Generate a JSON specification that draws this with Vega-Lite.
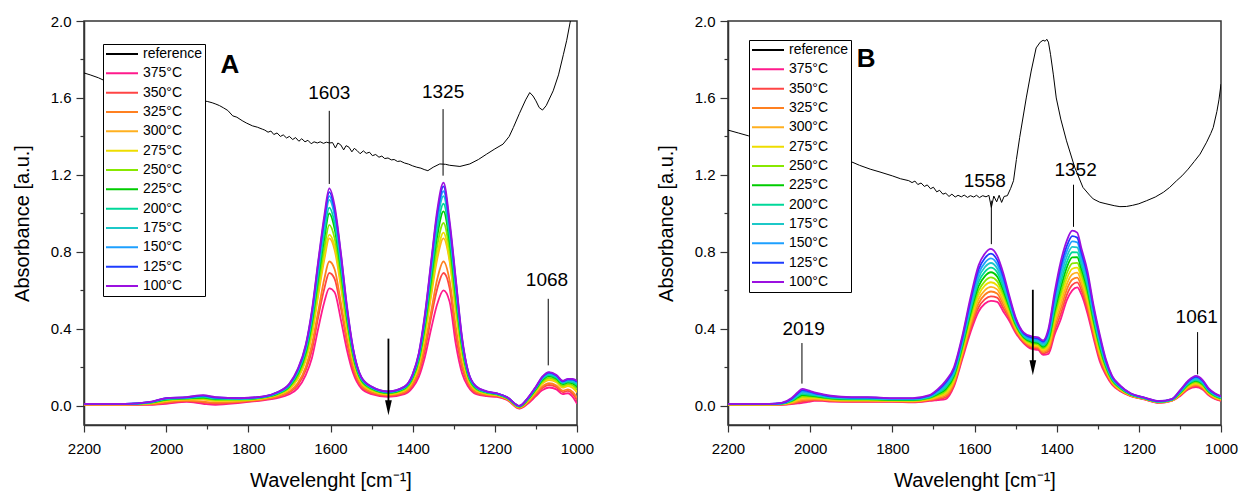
{
"$schema":"https://vega.github.io/schema/vega-lite/v6.json",
"padding":{"left":11,"top":13,"right":0,"bottom":0},
"bounds":"flush",
"spacing":151,
"config":{"font":"Liberation Sans","view":{"stroke":"#333","strokeWidth":1.5},
"axis":{"labelFont":"Liberation Sans","labelFontSize":15,"labelColor":"black","titleFont":"Liberation Sans","titleFontSize":20,"titleFontWeight":"normal","titleColor":"black","domainColor":"#333","domainWidth":1.5,"tickColor":"#333","tickWidth":1.2,"grid":false,"labelFlush":false,"labelOverlap":false,"labelBound":false}},
"resolve":{"legend":{"color":"independent"}},
"datasets":{
"refA":[
{"s":0,"x":2200,"y":1.73},{"s":0,"x":2185,"y":1.72},{"s":0,"x":2165,"y":1.705},{"s":0,"x":2150,"y":1.69},{"s":0,"x":2100,"y":1.66},{"s":0,"x":2050,"y":1.64},{"s":0,"x":2000,"y":1.62},{"s":0,"x":1950,"y":1.6},{"s":0,"x":1912,"y":1.585},{"s":0,"x":1900,"y":1.582},{"s":0,"x":1888,"y":1.575},{"s":0,"x":1879,"y":1.568},{"s":0,"x":1870,"y":1.56},{"s":0,"x":1860,"y":1.548},{"s":0,"x":1850,"y":1.535},{"s":0,"x":1838,"y":1.507},{"s":0,"x":1828,"y":1.5},{"s":0,"x":1815,"y":1.482},{"s":0,"x":1805,"y":1.47},{"s":0,"x":1790,"y":1.455},{"s":0,"x":1778,"y":1.448},{"s":0,"x":1765,"y":1.437},
{"s":0,"x":1760,"y":1.433},{"s":0,"x":1752,"y":1.422},{"s":0,"x":1745,"y":1.428},{"s":0,"x":1738,"y":1.41},{"s":0,"x":1730,"y":1.418},{"s":0,"x":1722,"y":1.4},{"s":0,"x":1715,"y":1.408},{"s":0,"x":1707,"y":1.392},{"s":0,"x":1700,"y":1.4},{"s":0,"x":1692,"y":1.384},{"s":0,"x":1685,"y":1.394},{"s":0,"x":1677,"y":1.375},{"s":0,"x":1670,"y":1.388},{"s":0,"x":1662,"y":1.372},{"s":0,"x":1655,"y":1.38},{"s":0,"x":1647,"y":1.362},{"s":0,"x":1640,"y":1.372},{"s":0,"x":1632,"y":1.366},{"s":0,"x":1625,"y":1.372},{"s":0,"x":1617,"y":1.364},{"s":0,"x":1610,"y":1.37},{"s":0,"x":1602,"y":1.366},{"s":0,"x":1595,"y":1.368},{"s":0,"x":1588,"y":1.34},{"s":0,"x":1582,"y":1.366},{"s":0,"x":1575,"y":1.356},{"s":0,"x":1568,"y":1.33},{"s":0,"x":1562,"y":1.352},{"s":0,"x":1555,"y":1.344},{"s":0,"x":1548,"y":1.32},{"s":0,"x":1542,"y":1.338},{"s":0,"x":1535,"y":1.326},{"s":0,"x":1528,"y":1.31},{"s":0,"x":1520,"y":1.325},{"s":0,"x":1513,"y":1.312},{"s":0,"x":1505,"y":1.318},{"s":0,"x":1498,"y":1.3},{"s":0,"x":1490,"y":1.306},{"s":0,"x":1482,"y":1.292},{"s":0,"x":1475,"y":1.298},{"s":0,"x":1468,"y":1.285},{"s":0,"x":1460,"y":1.288},{"s":0,"x":1452,"y":1.278},{"s":0,"x":1445,"y":1.28},{"s":0,"x":1437,"y":1.27},{"s":0,"x":1430,"y":1.272},{"s":0,"x":1420,"y":1.262},{"s":0,"x":1410,"y":1.256},{"s":0,"x":1400,"y":1.247},{"s":0,"x":1390,"y":1.24},{"s":0,"x":1380,"y":1.235},{"s":0,"x":1372,"y":1.228},{"s":0,"x":1363,"y":1.222},
{"s":0,"x":1350,"y":1.24},{"s":0,"x":1334,"y":1.257},{"s":0,"x":1320,"y":1.255},{"s":0,"x":1310,"y":1.25},{"s":0,"x":1285,"y":1.244},{"s":0,"x":1261,"y":1.257},{"s":0,"x":1240,"y":1.28},{"s":0,"x":1220,"y":1.308},{"s":0,"x":1200,"y":1.335},{"s":0,"x":1180,"y":1.36},{"s":0,"x":1165,"y":1.4},{"s":0,"x":1155,"y":1.446},{"s":0,"x":1140,"y":1.52},{"s":0,"x":1125,"y":1.59},{"s":0,"x":1115,"y":1.628},{"s":0,"x":1107,"y":1.61},{"s":0,"x":1100,"y":1.585},{"s":0,"x":1092,"y":1.55},{"s":0,"x":1084,"y":1.537},{"s":0,"x":1075,"y":1.56},{"s":0,"x":1058,"y":1.637},{"s":0,"x":1045,"y":1.72},{"s":0,"x":1033,"y":1.827},{"s":0,"x":1025,"y":1.9},{"s":0,"x":1017,"y":1.99},{"s":0,"x":1010,"y":2.06}],
"refB":[
{"s":0,"x":2200,"y":1.433},{"s":0,"x":2175,"y":1.418},{"s":0,"x":2150,"y":1.403},{"s":0,"x":2100,"y":1.37},{"s":0,"x":2000,"y":1.32},{"s":0,"x":1906,"y":1.274},{"s":0,"x":1880,"y":1.25},{"s":0,"x":1854,"y":1.23},{"s":0,"x":1830,"y":1.215},{"s":0,"x":1800,"y":1.195},{"s":0,"x":1780,"y":1.18},
{"s":0,"x":1760,"y":1.17},{"s":0,"x":1752,"y":1.16},{"s":0,"x":1745,"y":1.168},{"s":0,"x":1738,"y":1.15},{"s":0,"x":1730,"y":1.158},{"s":0,"x":1722,"y":1.14},{"s":0,"x":1715,"y":1.148},{"s":0,"x":1707,"y":1.128},{"s":0,"x":1700,"y":1.136},{"s":0,"x":1692,"y":1.112},{"s":0,"x":1685,"y":1.12},{"s":0,"x":1677,"y":1.1},{"s":0,"x":1670,"y":1.105},{"s":0,"x":1662,"y":1.088},{"s":0,"x":1655,"y":1.1},{"s":0,"x":1647,"y":1.085},{"s":0,"x":1640,"y":1.094},{"s":0,"x":1632,"y":1.086},{"s":0,"x":1625,"y":1.095},{"s":0,"x":1617,"y":1.083},{"s":0,"x":1610,"y":1.092},{"s":0,"x":1602,"y":1.085},{"s":0,"x":1595,"y":1.094},{"s":0,"x":1588,"y":1.082},{"s":0,"x":1580,"y":1.092},{"s":0,"x":1572,"y":1.086},{"s":0,"x":1565,"y":1.094},{"s":0,"x":1559,"y":1.031},{"s":0,"x":1553,"y":1.09},{"s":0,"x":1546,"y":1.06},{"s":0,"x":1540,"y":1.094},{"s":0,"x":1534,"y":1.057},{"s":0,"x":1528,"y":1.088},{"s":0,"x":1520,"y":1.092},{"s":0,"x":1512,"y":1.13},
{"s":0,"x":1505,"y":1.17},{"s":0,"x":1498,"y":1.28},{"s":0,"x":1490,"y":1.395},{"s":0,"x":1474,"y":1.6},{"s":0,"x":1462,"y":1.74},{"s":0,"x":1450,"y":1.86},{"s":0,"x":1440,"y":1.89},{"s":0,"x":1433,"y":1.9},{"s":0,"x":1428,"y":1.895},{"s":0,"x":1424,"y":1.905},{"s":0,"x":1420,"y":1.89},{"s":0,"x":1415,"y":1.827},{"s":0,"x":1408,"y":1.72},{"s":0,"x":1401,"y":1.6},{"s":0,"x":1390,"y":1.49},{"s":0,"x":1376,"y":1.377},{"s":0,"x":1356,"y":1.239},{"s":0,"x":1336,"y":1.135},{"s":0,"x":1320,"y":1.095},{"s":0,"x":1311,"y":1.075},{"s":0,"x":1295,"y":1.058},{"s":0,"x":1280,"y":1.05},{"s":0,"x":1260,"y":1.04},{"s":0,"x":1246,"y":1.035},{"s":0,"x":1230,"y":1.036},{"s":0,"x":1215,"y":1.042},{"s":0,"x":1200,"y":1.05},{"s":0,"x":1181,"y":1.066},{"s":0,"x":1160,"y":1.085},{"s":0,"x":1140,"y":1.11},{"s":0,"x":1125,"y":1.135},{"s":0,"x":1108,"y":1.17},{"s":0,"x":1095,"y":1.195},{"s":0,"x":1080,"y":1.23},{"s":0,"x":1065,"y":1.27},{"s":0,"x":1051,"y":1.308},{"s":0,"x":1035,"y":1.37},{"s":0,"x":1025,"y":1.415},{"s":0,"x":1019,"y":1.446},{"s":0,"x":1010,"y":1.53},{"s":0,"x":1005,"y":1.59},{"s":0,"x":1000,"y":1.672}],
"tA":[
{"s":375,"x":2200,"y":0.005},{"s":375,"x":2100,"y":0.005},{"s":375,"x":2040,"y":0.005},{"s":375,"x":2000,"y":0.01},{"s":375,"x":1950,"y":0.02},{"s":375,"x":1910,"y":0.01},{"s":375,"x":1880,"y":0.005},{"s":375,"x":1820,"y":0.015},{"s":375,"x":1760,"y":0.03},{"s":375,"x":1730,"y":0.04},{"s":375,"x":1700,"y":0.06},{"s":375,"x":1680,"y":0.09},{"s":375,"x":1660,"y":0.16},{"s":375,"x":1645,"y":0.25},{"s":375,"x":1630,"y":0.4},{"s":375,"x":1615,"y":0.54},{"s":375,"x":1603,"y":0.61},{"s":375,"x":1590,"y":0.59},{"s":375,"x":1575,"y":0.45},{"s":375,"x":1560,"y":0.29},{"s":375,"x":1545,"y":0.17},{"s":375,"x":1525,"y":0.09},{"s":375,"x":1500,"y":0.06},{"s":375,"x":1460,"y":0.046},{"s":375,"x":1420,"y":0.06},{"s":375,"x":1400,"y":0.095},{"s":375,"x":1385,"y":0.15},{"s":375,"x":1370,"y":0.255},{"s":375,"x":1355,"y":0.4},{"s":375,"x":1340,"y":0.53},{"s":375,"x":1325,"y":0.6},{"s":375,"x":1310,"y":0.54},{"s":375,"x":1295,"y":0.32},{"s":375,"x":1280,"y":0.17},{"s":375,"x":1265,"y":0.1},{"s":375,"x":1245,"y":0.06},{"s":375,"x":1220,"y":0.05},{"s":375,"x":1195,"y":0.046},{"s":375,"x":1170,"y":0.03},{"s":375,"x":1140,"y":-0.015},{"s":375,"x":1120,"y":0.01},{"s":375,"x":1100,"y":0.05},{"s":375,"x":1085,"y":0.08},{"s":375,"x":1068,"y":0.095},{"s":375,"x":1050,"y":0.085},{"s":375,"x":1035,"y":0.06},{"s":375,"x":1022,"y":0.065},{"s":375,"x":1010,"y":0.045},{"s":375,"x":1000,"y":0.01},
{"s":350,"x":2200,"y":0.006},{"s":350,"x":2100,"y":0.006},{"s":350,"x":2040,"y":0.007},{"s":350,"x":2000,"y":0.015},{"s":350,"x":1950,"y":0.024},{"s":350,"x":1910,"y":0.017},{"s":350,"x":1880,"y":0.011},{"s":350,"x":1820,"y":0.019},{"s":350,"x":1760,"y":0.033},{"s":350,"x":1730,"y":0.045},{"s":350,"x":1700,"y":0.069},{"s":350,"x":1680,"y":0.106},{"s":350,"x":1660,"y":0.186},{"s":350,"x":1645,"y":0.29},{"s":350,"x":1630,"y":0.46},{"s":350,"x":1615,"y":0.61},{"s":350,"x":1603,"y":0.69},{"s":350,"x":1590,"y":0.66},{"s":350,"x":1575,"y":0.51},{"s":350,"x":1560,"y":0.33},{"s":350,"x":1545,"y":0.191},{"s":350,"x":1525,"y":0.1},{"s":350,"x":1500,"y":0.066},{"s":350,"x":1460,"y":0.051},{"s":350,"x":1420,"y":0.066},{"s":350,"x":1400,"y":0.106},{"s":350,"x":1385,"y":0.17},{"s":350,"x":1370,"y":0.29},{"s":350,"x":1355,"y":0.46},{"s":350,"x":1340,"y":0.61},{"s":350,"x":1325,"y":0.69},{"s":350,"x":1310,"y":0.61},{"s":350,"x":1295,"y":0.37},{"s":350,"x":1280,"y":0.2},{"s":350,"x":1265,"y":0.113},{"s":350,"x":1245,"y":0.066},{"s":350,"x":1220,"y":0.054},{"s":350,"x":1195,"y":0.049},{"s":350,"x":1170,"y":0.032},{"s":350,"x":1140,"y":-0.013},{"s":350,"x":1120,"y":0.015},{"s":350,"x":1100,"y":0.058},{"s":350,"x":1085,"y":0.091},{"s":350,"x":1068,"y":0.108},{"s":350,"x":1050,"y":0.097},{"s":350,"x":1035,"y":0.071},{"s":350,"x":1022,"y":0.077},{"s":350,"x":1010,"y":0.06},{"s":350,"x":1000,"y":0.029},
{"s":325,"x":2200,"y":0.006},{"s":325,"x":2100,"y":0.006},{"s":325,"x":2040,"y":0.009},{"s":325,"x":2000,"y":0.018},{"s":325,"x":1950,"y":0.027},{"s":325,"x":1910,"y":0.022},{"s":325,"x":1880,"y":0.016},{"s":325,"x":1820,"y":0.022},{"s":325,"x":1760,"y":0.035},{"s":325,"x":1730,"y":0.048},{"s":325,"x":1700,"y":0.075},{"s":325,"x":1680,"y":0.117},{"s":325,"x":1660,"y":0.203},{"s":325,"x":1645,"y":0.32},{"s":325,"x":1630,"y":0.49},{"s":325,"x":1615,"y":0.66},{"s":325,"x":1603,"y":0.75},{"s":325,"x":1590,"y":0.71},{"s":325,"x":1575,"y":0.54},{"s":325,"x":1560,"y":0.35},{"s":325,"x":1545,"y":0.205},{"s":325,"x":1525,"y":0.106},{"s":325,"x":1500,"y":0.071},{"s":325,"x":1460,"y":0.054},{"s":325,"x":1420,"y":0.071},{"s":325,"x":1400,"y":0.114},{"s":325,"x":1385,"y":0.184},{"s":325,"x":1370,"y":0.32},{"s":325,"x":1355,"y":0.49},{"s":325,"x":1340,"y":0.66},{"s":325,"x":1325,"y":0.75},{"s":325,"x":1310,"y":0.65},{"s":325,"x":1295,"y":0.41},{"s":325,"x":1280,"y":0.221},{"s":325,"x":1265,"y":0.122},{"s":325,"x":1245,"y":0.071},{"s":325,"x":1220,"y":0.057},{"s":325,"x":1195,"y":0.051},{"s":325,"x":1170,"y":0.034},{"s":325,"x":1140,"y":-0.011},{"s":325,"x":1120,"y":0.018},{"s":325,"x":1100,"y":0.064},{"s":325,"x":1085,"y":0.099},{"s":325,"x":1068,"y":0.117},{"s":325,"x":1050,"y":0.105},{"s":325,"x":1035,"y":0.079},{"s":325,"x":1022,"y":0.085},{"s":325,"x":1010,"y":0.071},{"s":325,"x":1000,"y":0.042},
{"s":300,"x":2200,"y":0.007},{"s":300,"x":2100,"y":0.007},{"s":300,"x":2040,"y":0.012},{"s":300,"x":2000,"y":0.025},{"s":300,"x":1950,"y":0.032},{"s":300,"x":1910,"y":0.032},{"s":300,"x":1880,"y":0.025},{"s":300,"x":1820,"y":0.027},{"s":300,"x":1760,"y":0.04},{"s":300,"x":1730,"y":0.055},{"s":300,"x":1700,"y":0.087},{"s":300,"x":1680,"y":0.139},{"s":300,"x":1660,"y":0.238},{"s":300,"x":1645,"y":0.37},{"s":300,"x":1630,"y":0.57},{"s":300,"x":1615,"y":0.76},{"s":300,"x":1603,"y":0.87},{"s":300,"x":1590,"y":0.81},{"s":300,"x":1575,"y":0.62},{"s":300,"x":1560,"y":0.4},{"s":300,"x":1545,"y":0.234},{"s":300,"x":1525,"y":0.119},{"s":300,"x":1500,"y":0.08},{"s":300,"x":1460,"y":0.06},{"s":300,"x":1420,"y":0.08},{"s":300,"x":1400,"y":0.129},{"s":300,"x":1385,"y":0.211},{"s":300,"x":1370,"y":0.365},{"s":300,"x":1355,"y":0.57},{"s":300,"x":1340,"y":0.765},{"s":300,"x":1325,"y":0.87},{"s":300,"x":1310,"y":0.75},{"s":300,"x":1295,"y":0.49},{"s":300,"x":1280,"y":0.263},{"s":300,"x":1265,"y":0.139},{"s":300,"x":1245,"y":0.08},{"s":300,"x":1220,"y":0.062},{"s":300,"x":1195,"y":0.055},{"s":300,"x":1170,"y":0.037},{"s":300,"x":1140,"y":-0.008},{"s":300,"x":1120,"y":0.025},{"s":300,"x":1100,"y":0.075},{"s":300,"x":1085,"y":0.114},{"s":300,"x":1068,"y":0.134},{"s":300,"x":1050,"y":0.122},{"s":300,"x":1035,"y":0.094},{"s":300,"x":1022,"y":0.102},{"s":300,"x":1010,"y":0.092},{"s":300,"x":1000,"y":0.069},
{"s":275,"x":2200,"y":0.007},{"s":275,"x":2100,"y":0.007},{"s":275,"x":2040,"y":0.013},{"s":275,"x":2000,"y":0.026},{"s":275,"x":1950,"y":0.033},{"s":275,"x":1910,"y":0.034},{"s":275,"x":1880,"y":0.026},{"s":275,"x":1820,"y":0.028},{"s":275,"x":1760,"y":0.041},{"s":275,"x":1730,"y":0.056},{"s":275,"x":1700,"y":0.089},{"s":275,"x":1680,"y":0.143},{"s":275,"x":1660,"y":0.245},{"s":275,"x":1645,"y":0.38},{"s":275,"x":1630,"y":0.59},{"s":275,"x":1615,"y":0.78},{"s":275,"x":1603,"y":0.89},{"s":275,"x":1590,"y":0.83},{"s":275,"x":1575,"y":0.64},{"s":275,"x":1560,"y":0.41},{"s":275,"x":1545,"y":0.239},{"s":275,"x":1525,"y":0.122},{"s":275,"x":1500,"y":0.081},{"s":275,"x":1460,"y":0.061},{"s":275,"x":1420,"y":0.081},{"s":275,"x":1400,"y":0.132},{"s":275,"x":1385,"y":0.216},{"s":275,"x":1370,"y":0.37},{"s":275,"x":1355,"y":0.59},{"s":275,"x":1340,"y":0.79},{"s":275,"x":1325,"y":0.9},{"s":275,"x":1310,"y":0.76},{"s":275,"x":1295,"y":0.5},{"s":275,"x":1280,"y":0.271},{"s":275,"x":1265,"y":0.142},{"s":275,"x":1245,"y":0.081},{"s":275,"x":1220,"y":0.063},{"s":275,"x":1195,"y":0.056},{"s":275,"x":1170,"y":0.038},{"s":275,"x":1140,"y":-0.007},{"s":275,"x":1120,"y":0.026},{"s":275,"x":1100,"y":0.077},{"s":275,"x":1085,"y":0.117},{"s":275,"x":1068,"y":0.137},{"s":275,"x":1050,"y":0.125},{"s":275,"x":1035,"y":0.097},{"s":275,"x":1022,"y":0.105},{"s":275,"x":1010,"y":0.095},{"s":275,"x":1000,"y":0.074},
{"s":250,"x":2200,"y":0.008},{"s":250,"x":2100,"y":0.008},{"s":250,"x":2040,"y":0.014},{"s":250,"x":2000,"y":0.029},{"s":250,"x":1950,"y":0.036},{"s":250,"x":1910,"y":0.038},{"s":250,"x":1880,"y":0.03},{"s":250,"x":1820,"y":0.031},{"s":250,"x":1760,"y":0.043},{"s":250,"x":1730,"y":0.059},{"s":250,"x":1700,"y":0.095},{"s":250,"x":1680,"y":0.153},{"s":250,"x":1660,"y":0.261},{"s":250,"x":1645,"y":0.41},{"s":250,"x":1630,"y":0.62},{"s":250,"x":1615,"y":0.82},{"s":250,"x":1603,"y":0.94},{"s":250,"x":1590,"y":0.87},{"s":250,"x":1575,"y":0.67},{"s":250,"x":1560,"y":0.435},{"s":250,"x":1545,"y":0.252},{"s":250,"x":1525,"y":0.128},{"s":250,"x":1500,"y":0.085},{"s":250,"x":1460,"y":0.064},{"s":250,"x":1420,"y":0.085},{"s":250,"x":1400,"y":0.139},{"s":250,"x":1385,"y":0.229},{"s":250,"x":1370,"y":0.4},{"s":250,"x":1355,"y":0.62},{"s":250,"x":1340,"y":0.835},{"s":250,"x":1325,"y":0.95},{"s":250,"x":1310,"y":0.805},{"s":250,"x":1295,"y":0.53},{"s":250,"x":1280,"y":0.29},{"s":250,"x":1265,"y":0.15},{"s":250,"x":1245,"y":0.085},{"s":250,"x":1220,"y":0.066},{"s":250,"x":1195,"y":0.058},{"s":250,"x":1170,"y":0.039},{"s":250,"x":1140,"y":-0.006},{"s":250,"x":1120,"y":0.029},{"s":250,"x":1100,"y":0.082},{"s":250,"x":1085,"y":0.124},{"s":250,"x":1068,"y":0.145},{"s":250,"x":1050,"y":0.132},{"s":250,"x":1035,"y":0.104},{"s":250,"x":1022,"y":0.112},{"s":250,"x":1010,"y":0.105},{"s":250,"x":1000,"y":0.086},
{"s":225,"x":2200,"y":0.009},{"s":225,"x":2100,"y":0.009},{"s":225,"x":2040,"y":0.016},{"s":225,"x":2000,"y":0.032},{"s":225,"x":1950,"y":0.039},{"s":225,"x":1910,"y":0.043},{"s":225,"x":1880,"y":0.035},{"s":225,"x":1820,"y":0.034},{"s":225,"x":1760,"y":0.045},{"s":225,"x":1730,"y":0.062},{"s":225,"x":1700,"y":0.101},{"s":225,"x":1680,"y":0.164},{"s":225,"x":1660,"y":0.278},{"s":225,"x":1645,"y":0.435},{"s":225,"x":1630,"y":0.66},{"s":225,"x":1615,"y":0.87},{"s":225,"x":1603,"y":1.0},{"s":225,"x":1590,"y":0.92},{"s":225,"x":1575,"y":0.71},{"s":225,"x":1560,"y":0.46},{"s":225,"x":1545,"y":0.266},{"s":225,"x":1525,"y":0.134},{"s":225,"x":1500,"y":0.09},{"s":225,"x":1460,"y":0.067},{"s":225,"x":1420,"y":0.09},{"s":225,"x":1400,"y":0.147},{"s":225,"x":1385,"y":0.243},{"s":225,"x":1370,"y":0.42},{"s":225,"x":1355,"y":0.66},{"s":225,"x":1340,"y":0.885},{"s":225,"x":1325,"y":1.01},{"s":225,"x":1310,"y":0.85},{"s":225,"x":1295,"y":0.57},{"s":225,"x":1280,"y":0.311},{"s":225,"x":1265,"y":0.159},{"s":225,"x":1245,"y":0.09},{"s":225,"x":1220,"y":0.069},{"s":225,"x":1195,"y":0.06},{"s":225,"x":1170,"y":0.041},{"s":225,"x":1140,"y":-0.004},{"s":225,"x":1120,"y":0.032},{"s":225,"x":1100,"y":0.087},{"s":225,"x":1085,"y":0.132},{"s":225,"x":1068,"y":0.154},{"s":225,"x":1050,"y":0.14},{"s":225,"x":1035,"y":0.112},{"s":225,"x":1022,"y":0.12},{"s":225,"x":1010,"y":0.115},{"s":225,"x":1000,"y":0.099},
{"s":200,"x":2200,"y":0.009},{"s":200,"x":2100,"y":0.009},{"s":200,"x":2040,"y":0.017},{"s":200,"x":2000,"y":0.034},{"s":200,"x":1950,"y":0.04},{"s":200,"x":1910,"y":0.046},{"s":200,"x":1880,"y":0.037},{"s":200,"x":1820,"y":0.035},{"s":200,"x":1760,"y":0.046},{"s":200,"x":1730,"y":0.064},{"s":200,"x":1700,"y":0.105},{"s":200,"x":1680,"y":0.171},{"s":200,"x":1660,"y":0.29},{"s":200,"x":1645,"y":0.45},{"s":200,"x":1630,"y":0.68},{"s":200,"x":1615,"y":0.9},{"s":200,"x":1603,"y":1.03},{"s":200,"x":1590,"y":0.95},{"s":200,"x":1575,"y":0.73},{"s":200,"x":1560,"y":0.48},{"s":200,"x":1545,"y":0.275},{"s":200,"x":1525,"y":0.139},{"s":200,"x":1500,"y":0.092},{"s":200,"x":1460,"y":0.069},{"s":200,"x":1420,"y":0.092},{"s":200,"x":1400,"y":0.152},{"s":200,"x":1385,"y":0.251},{"s":200,"x":1370,"y":0.44},{"s":200,"x":1355,"y":0.68},{"s":200,"x":1340,"y":0.92},{"s":200,"x":1325,"y":1.05},{"s":200,"x":1310,"y":0.88},{"s":200,"x":1295,"y":0.595},{"s":200,"x":1280,"y":0.324},{"s":200,"x":1265,"y":0.165},{"s":200,"x":1245,"y":0.092},{"s":200,"x":1220,"y":0.07},{"s":200,"x":1195,"y":0.061},{"s":200,"x":1170,"y":0.042},{"s":200,"x":1140,"y":-0.003},{"s":200,"x":1120,"y":0.034},{"s":200,"x":1100,"y":0.091},{"s":200,"x":1085,"y":0.137},{"s":200,"x":1068,"y":0.16},{"s":200,"x":1050,"y":0.146},{"s":200,"x":1035,"y":0.117},{"s":200,"x":1022,"y":0.126},{"s":200,"x":1010,"y":0.122},{"s":200,"x":1000,"y":0.107},
{"s":175,"x":2200,"y":0.009},{"s":175,"x":2100,"y":0.009},{"s":175,"x":2040,"y":0.018},{"s":175,"x":2000,"y":0.036},{"s":175,"x":1950,"y":0.042},{"s":175,"x":1910,"y":0.05},{"s":175,"x":1880,"y":0.04},{"s":175,"x":1820,"y":0.037},{"s":175,"x":1760,"y":0.048},{"s":175,"x":1730,"y":0.066},{"s":175,"x":1700,"y":0.108},{"s":175,"x":1680,"y":0.178},{"s":175,"x":1660,"y":0.301},{"s":175,"x":1645,"y":0.47},{"s":175,"x":1630,"y":0.71},{"s":175,"x":1615,"y":0.94},{"s":175,"x":1603,"y":1.07},{"s":175,"x":1590,"y":0.99},{"s":175,"x":1575,"y":0.76},{"s":175,"x":1560,"y":0.49},{"s":175,"x":1545,"y":0.284},{"s":175,"x":1525,"y":0.143},{"s":175,"x":1500,"y":0.095},{"s":175,"x":1460,"y":0.072},{"s":175,"x":1420,"y":0.095},{"s":175,"x":1400,"y":0.157},{"s":175,"x":1385,"y":0.26},{"s":175,"x":1370,"y":0.45},{"s":175,"x":1355,"y":0.71},{"s":175,"x":1340,"y":0.96},{"s":175,"x":1325,"y":1.09},{"s":175,"x":1310,"y":0.91},{"s":175,"x":1295,"y":0.62},{"s":175,"x":1280,"y":0.337},{"s":175,"x":1265,"y":0.17},{"s":175,"x":1245,"y":0.095},{"s":175,"x":1220,"y":0.072},{"s":175,"x":1195,"y":0.063},{"s":175,"x":1170,"y":0.043},{"s":175,"x":1140,"y":-0.002},{"s":175,"x":1120,"y":0.036},{"s":175,"x":1100,"y":0.094},{"s":175,"x":1085,"y":0.142},{"s":175,"x":1068,"y":0.165},{"s":175,"x":1050,"y":0.151},{"s":175,"x":1035,"y":0.122},{"s":175,"x":1022,"y":0.131},{"s":175,"x":1010,"y":0.129},{"s":175,"x":1000,"y":0.116},
{"s":150,"x":2200,"y":0.01},{"s":150,"x":2100,"y":0.01},{"s":150,"x":2040,"y":0.019},{"s":150,"x":2000,"y":0.038},{"s":150,"x":1950,"y":0.043},{"s":150,"x":1910,"y":0.051},{"s":150,"x":1880,"y":0.042},{"s":150,"x":1820,"y":0.038},{"s":150,"x":1760,"y":0.048},{"s":150,"x":1730,"y":0.068},{"s":150,"x":1700,"y":0.111},{"s":150,"x":1680,"y":0.182},{"s":150,"x":1660,"y":0.307},{"s":150,"x":1645,"y":0.48},{"s":150,"x":1630,"y":0.72},{"s":150,"x":1615,"y":0.95},{"s":150,"x":1603,"y":1.09},{"s":150,"x":1590,"y":1.0},{"s":150,"x":1575,"y":0.77},{"s":150,"x":1560,"y":0.5},{"s":150,"x":1545,"y":0.29},{"s":150,"x":1525,"y":0.145},{"s":150,"x":1500,"y":0.097},{"s":150,"x":1460,"y":0.073},{"s":150,"x":1420,"y":0.097},{"s":150,"x":1400,"y":0.159},{"s":150,"x":1385,"y":0.265},{"s":150,"x":1370,"y":0.46},{"s":150,"x":1355,"y":0.72},{"s":150,"x":1340,"y":0.98},{"s":150,"x":1325,"y":1.115},{"s":150,"x":1310,"y":0.93},{"s":150,"x":1295,"y":0.63},{"s":150,"x":1280,"y":0.345},{"s":150,"x":1265,"y":0.174},{"s":150,"x":1245,"y":0.097},{"s":150,"x":1220,"y":0.073},{"s":150,"x":1195,"y":0.063},{"s":150,"x":1170,"y":0.044},{"s":150,"x":1140,"y":-0.001},{"s":150,"x":1120,"y":0.038},{"s":150,"x":1100,"y":0.096},{"s":150,"x":1085,"y":0.144},{"s":150,"x":1068,"y":0.169},{"s":150,"x":1050,"y":0.154},{"s":150,"x":1035,"y":0.124},{"s":150,"x":1022,"y":0.134},{"s":150,"x":1010,"y":0.132},{"s":150,"x":1000,"y":0.12},
{"s":125,"x":2200,"y":0.01},{"s":125,"x":2100,"y":0.01},{"s":125,"x":2040,"y":0.019},{"s":125,"x":2000,"y":0.039},{"s":125,"x":1950,"y":0.044},{"s":125,"x":1910,"y":0.053},{"s":125,"x":1880,"y":0.043},{"s":125,"x":1820,"y":0.039},{"s":125,"x":1760,"y":0.049},{"s":125,"x":1730,"y":0.069},{"s":125,"x":1700,"y":0.113},{"s":125,"x":1680,"y":0.186},{"s":125,"x":1660,"y":0.314},{"s":125,"x":1645,"y":0.49},{"s":125,"x":1630,"y":0.74},{"s":125,"x":1615,"y":0.97},{"s":125,"x":1603,"y":1.11},{"s":125,"x":1590,"y":1.02},{"s":125,"x":1575,"y":0.79},{"s":125,"x":1560,"y":0.51},{"s":125,"x":1545,"y":0.295},{"s":125,"x":1525,"y":0.148},{"s":125,"x":1500,"y":0.098},{"s":125,"x":1460,"y":0.074},{"s":125,"x":1420,"y":0.098},{"s":125,"x":1400,"y":0.162},{"s":125,"x":1385,"y":0.27},{"s":125,"x":1370,"y":0.47},{"s":125,"x":1355,"y":0.74},{"s":125,"x":1340,"y":1.0},{"s":125,"x":1325,"y":1.14},{"s":125,"x":1310,"y":0.94},{"s":125,"x":1295,"y":0.65},{"s":125,"x":1280,"y":0.35},{"s":125,"x":1265,"y":0.177},{"s":125,"x":1245,"y":0.098},{"s":125,"x":1220,"y":0.074},{"s":125,"x":1195,"y":0.064},{"s":125,"x":1170,"y":0.044},{"s":125,"x":1140,"y":-0.001},{"s":125,"x":1120,"y":0.039},{"s":125,"x":1100,"y":0.098},{"s":125,"x":1085,"y":0.147},{"s":125,"x":1068,"y":0.172},{"s":125,"x":1050,"y":0.157},{"s":125,"x":1035,"y":0.127},{"s":125,"x":1022,"y":0.137},{"s":125,"x":1010,"y":0.136},{"s":125,"x":1000,"y":0.125},
{"s":100,"x":2200,"y":0.01},{"s":100,"x":2100,"y":0.01},{"s":100,"x":2040,"y":0.02},{"s":100,"x":2000,"y":0.04},{"s":100,"x":1950,"y":0.045},{"s":100,"x":1910,"y":0.055},{"s":100,"x":1880,"y":0.045},{"s":100,"x":1820,"y":0.04},{"s":100,"x":1760,"y":0.05},{"s":100,"x":1730,"y":0.07},{"s":100,"x":1700,"y":0.115},{"s":100,"x":1680,"y":0.19},{"s":100,"x":1660,"y":0.32},{"s":100,"x":1645,"y":0.5},{"s":100,"x":1630,"y":0.75},{"s":100,"x":1615,"y":0.99},{"s":100,"x":1603,"y":1.13},{"s":100,"x":1590,"y":1.04},{"s":100,"x":1575,"y":0.8},{"s":100,"x":1560,"y":0.52},{"s":100,"x":1545,"y":0.3},{"s":100,"x":1525,"y":0.15},{"s":100,"x":1500,"y":0.1},{"s":100,"x":1460,"y":0.075},{"s":100,"x":1420,"y":0.1},{"s":100,"x":1400,"y":0.165},{"s":100,"x":1385,"y":0.275},{"s":100,"x":1370,"y":0.48},{"s":100,"x":1355,"y":0.75},{"s":100,"x":1340,"y":1.02},{"s":100,"x":1325,"y":1.16},{"s":100,"x":1310,"y":0.96},{"s":100,"x":1295,"y":0.66},{"s":100,"x":1280,"y":0.36},{"s":100,"x":1265,"y":0.18},{"s":100,"x":1245,"y":0.1},{"s":100,"x":1220,"y":0.075},{"s":100,"x":1195,"y":0.065},{"s":100,"x":1170,"y":0.045},{"s":100,"x":1140,"y":0},{"s":100,"x":1120,"y":0.04},{"s":100,"x":1100,"y":0.1},{"s":100,"x":1085,"y":0.15},{"s":100,"x":1068,"y":0.175},{"s":100,"x":1050,"y":0.16},{"s":100,"x":1035,"y":0.13},{"s":100,"x":1022,"y":0.14},{"s":100,"x":1010,"y":0.14},{"s":100,"x":1000,"y":0.13}],
"tB":[
{"s":375,"x":2200,"y":0.005},{"s":375,"x":2100,"y":0.005},{"s":375,"x":2070,"y":0.005},{"s":375,"x":2045,"y":0.008},{"s":375,"x":2030,"y":0.012},{"s":375,"x":2019,"y":0.015},{"s":375,"x":2005,"y":0.02},{"s":375,"x":1990,"y":0.025},{"s":375,"x":1970,"y":0.025},{"s":375,"x":1950,"y":0.022},{"s":375,"x":1900,"y":0.02},{"s":375,"x":1860,"y":0.02},{"s":375,"x":1800,"y":0.02},{"s":375,"x":1750,"y":0.018},{"s":375,"x":1710,"y":0.025},{"s":375,"x":1690,"y":0.03},{"s":375,"x":1670,"y":0.035},{"s":375,"x":1650,"y":0.1},{"s":375,"x":1630,"y":0.24},{"s":375,"x":1610,"y":0.38},{"s":375,"x":1590,"y":0.49},{"s":375,"x":1575,"y":0.53},{"s":375,"x":1560,"y":0.545},{"s":375,"x":1545,"y":0.54},{"s":375,"x":1530,"y":0.49},{"s":375,"x":1515,"y":0.44},{"s":375,"x":1500,"y":0.38},{"s":375,"x":1480,"y":0.325},{"s":375,"x":1460,"y":0.295},{"s":375,"x":1445,"y":0.29},{"s":375,"x":1433,"y":0.265},{"s":375,"x":1420,"y":0.27},{"s":375,"x":1405,"y":0.37},{"s":375,"x":1390,"y":0.45},{"s":375,"x":1375,"y":0.55},{"s":375,"x":1362,"y":0.6},{"s":375,"x":1350,"y":0.615},{"s":375,"x":1340,"y":0.58},{"s":375,"x":1325,"y":0.48},{"s":375,"x":1310,"y":0.35},{"s":375,"x":1295,"y":0.23},{"s":375,"x":1280,"y":0.16},{"s":375,"x":1265,"y":0.11},{"s":375,"x":1245,"y":0.075},{"s":375,"x":1220,"y":0.05},{"s":375,"x":1190,"y":0.035},{"s":375,"x":1150,"y":0.015},{"s":375,"x":1120,"y":0.025},{"s":375,"x":1100,"y":0.05},{"s":375,"x":1080,"y":0.085},{"s":375,"x":1061,"y":0.097},{"s":375,"x":1045,"y":0.085},{"s":375,"x":1030,"y":0.055},{"s":375,"x":1015,"y":0.035},{"s":375,"x":1000,"y":0.025},
{"s":350,"x":2200,"y":0.005},{"s":350,"x":2100,"y":0.005},{"s":350,"x":2070,"y":0.006},{"s":350,"x":2045,"y":0.011},{"s":350,"x":2030,"y":0.017},{"s":350,"x":2019,"y":0.022},{"s":350,"x":2005,"y":0.025},{"s":350,"x":1990,"y":0.029},{"s":350,"x":1970,"y":0.028},{"s":350,"x":1950,"y":0.025},{"s":350,"x":1900,"y":0.022},{"s":350,"x":1860,"y":0.022},{"s":350,"x":1800,"y":0.022},{"s":350,"x":1750,"y":0.02},{"s":350,"x":1710,"y":0.028},{"s":350,"x":1690,"y":0.035},{"s":350,"x":1670,"y":0.044},{"s":350,"x":1650,"y":0.109},{"s":350,"x":1630,"y":0.251},{"s":350,"x":1610,"y":0.396},{"s":350,"x":1590,"y":0.512},{"s":350,"x":1575,"y":0.553},{"s":350,"x":1560,"y":0.569},{"s":350,"x":1545,"y":0.562},{"s":350,"x":1530,"y":0.508},{"s":350,"x":1515,"y":0.452},{"s":350,"x":1500,"y":0.387},{"s":350,"x":1480,"y":0.33},{"s":350,"x":1460,"y":0.301},{"s":350,"x":1445,"y":0.296},{"s":350,"x":1433,"y":0.272},{"s":350,"x":1420,"y":0.282},{"s":350,"x":1405,"y":0.39},{"s":350,"x":1390,"y":0.477},{"s":350,"x":1375,"y":0.578},{"s":350,"x":1362,"y":0.628},{"s":350,"x":1350,"y":0.641},{"s":350,"x":1340,"y":0.602},{"s":350,"x":1325,"y":0.5},{"s":350,"x":1310,"y":0.365},{"s":350,"x":1295,"y":0.243},{"s":350,"x":1280,"y":0.167},{"s":350,"x":1265,"y":0.114},{"s":350,"x":1245,"y":0.078},{"s":350,"x":1220,"y":0.051},{"s":350,"x":1190,"y":0.036},{"s":350,"x":1150,"y":0.016},{"s":350,"x":1120,"y":0.026},{"s":350,"x":1100,"y":0.053},{"s":350,"x":1080,"y":0.089},{"s":350,"x":1061,"y":0.102},{"s":350,"x":1045,"y":0.09},{"s":350,"x":1030,"y":0.058},{"s":350,"x":1015,"y":0.038},{"s":350,"x":1000,"y":0.027},
{"s":325,"x":2200,"y":0.006},{"s":325,"x":2100,"y":0.006},{"s":325,"x":2070,"y":0.007},{"s":325,"x":2045,"y":0.014},{"s":325,"x":2030,"y":0.022},{"s":325,"x":2019,"y":0.028},{"s":325,"x":2005,"y":0.031},{"s":325,"x":1990,"y":0.033},{"s":325,"x":1970,"y":0.031},{"s":325,"x":1950,"y":0.027},{"s":325,"x":1900,"y":0.025},{"s":325,"x":1860,"y":0.025},{"s":325,"x":1800,"y":0.024},{"s":325,"x":1750,"y":0.022},{"s":325,"x":1710,"y":0.03},{"s":325,"x":1690,"y":0.04},{"s":325,"x":1670,"y":0.052},{"s":325,"x":1650,"y":0.118},{"s":325,"x":1630,"y":0.262},{"s":325,"x":1610,"y":0.412},{"s":325,"x":1590,"y":0.533},{"s":325,"x":1575,"y":0.577},{"s":325,"x":1560,"y":0.594},{"s":325,"x":1545,"y":0.583},{"s":325,"x":1530,"y":0.526},{"s":325,"x":1515,"y":0.463},{"s":325,"x":1500,"y":0.394},{"s":325,"x":1480,"y":0.335},{"s":325,"x":1460,"y":0.307},{"s":325,"x":1445,"y":0.302},{"s":325,"x":1433,"y":0.279},{"s":325,"x":1420,"y":0.293},{"s":325,"x":1405,"y":0.41},{"s":325,"x":1390,"y":0.504},{"s":325,"x":1375,"y":0.606},{"s":325,"x":1362,"y":0.656},{"s":325,"x":1350,"y":0.666},{"s":325,"x":1340,"y":0.623},{"s":325,"x":1325,"y":0.52},{"s":325,"x":1310,"y":0.381},{"s":325,"x":1295,"y":0.255},{"s":325,"x":1280,"y":0.174},{"s":325,"x":1265,"y":0.118},{"s":325,"x":1245,"y":0.08},{"s":325,"x":1220,"y":0.053},{"s":325,"x":1190,"y":0.037},{"s":325,"x":1150,"y":0.017},{"s":325,"x":1120,"y":0.027},{"s":325,"x":1100,"y":0.055},{"s":325,"x":1080,"y":0.093},{"s":325,"x":1061,"y":0.107},{"s":325,"x":1045,"y":0.094},{"s":325,"x":1030,"y":0.061},{"s":325,"x":1015,"y":0.04},{"s":325,"x":1000,"y":0.03},
{"s":300,"x":2200,"y":0.006},{"s":300,"x":2100,"y":0.006},{"s":300,"x":2070,"y":0.008},{"s":300,"x":2045,"y":0.017},{"s":300,"x":2030,"y":0.028},{"s":300,"x":2019,"y":0.035},{"s":300,"x":2005,"y":0.036},{"s":300,"x":1990,"y":0.037},{"s":300,"x":1970,"y":0.034},{"s":300,"x":1950,"y":0.03},{"s":300,"x":1900,"y":0.027},{"s":300,"x":1860,"y":0.027},{"s":300,"x":1800,"y":0.025},{"s":300,"x":1750,"y":0.024},{"s":300,"x":1710,"y":0.033},{"s":300,"x":1690,"y":0.045},{"s":300,"x":1670,"y":0.061},{"s":300,"x":1650,"y":0.127},{"s":300,"x":1630,"y":0.272},{"s":300,"x":1610,"y":0.429},{"s":300,"x":1590,"y":0.555},{"s":300,"x":1575,"y":0.6},{"s":300,"x":1560,"y":0.618},{"s":300,"x":1545,"y":0.605},{"s":300,"x":1530,"y":0.544},{"s":300,"x":1515,"y":0.475},{"s":300,"x":1500,"y":0.402},{"s":300,"x":1480,"y":0.34},{"s":300,"x":1460,"y":0.313},{"s":300,"x":1445,"y":0.308},{"s":300,"x":1433,"y":0.285},{"s":300,"x":1420,"y":0.305},{"s":300,"x":1405,"y":0.429},{"s":300,"x":1390,"y":0.531},{"s":300,"x":1375,"y":0.634},{"s":300,"x":1362,"y":0.684},{"s":300,"x":1350,"y":0.692},{"s":300,"x":1340,"y":0.645},{"s":300,"x":1325,"y":0.539},{"s":300,"x":1310,"y":0.396},{"s":300,"x":1295,"y":0.268},{"s":300,"x":1280,"y":0.182},{"s":300,"x":1265,"y":0.122},{"s":300,"x":1245,"y":0.083},{"s":300,"x":1220,"y":0.054},{"s":300,"x":1190,"y":0.038},{"s":300,"x":1150,"y":0.018},{"s":300,"x":1120,"y":0.028},{"s":300,"x":1100,"y":0.058},{"s":300,"x":1080,"y":0.097},{"s":300,"x":1061,"y":0.113},{"s":300,"x":1045,"y":0.099},{"s":300,"x":1030,"y":0.064},{"s":300,"x":1015,"y":0.043},{"s":300,"x":1000,"y":0.032},
{"s":275,"x":2200,"y":0.007},{"s":275,"x":2100,"y":0.007},{"s":275,"x":2070,"y":0.009},{"s":275,"x":2045,"y":0.02},{"s":275,"x":2030,"y":0.033},{"s":275,"x":2019,"y":0.041},{"s":275,"x":2005,"y":0.042},{"s":275,"x":1990,"y":0.041},{"s":275,"x":1970,"y":0.038},{"s":275,"x":1950,"y":0.033},{"s":275,"x":1900,"y":0.029},{"s":275,"x":1860,"y":0.029},{"s":275,"x":1800,"y":0.027},{"s":275,"x":1750,"y":0.026},{"s":275,"x":1710,"y":0.036},{"s":275,"x":1690,"y":0.05},{"s":275,"x":1670,"y":0.069},{"s":275,"x":1650,"y":0.136},{"s":275,"x":1630,"y":0.283},{"s":275,"x":1610,"y":0.445},{"s":275,"x":1590,"y":0.576},{"s":275,"x":1575,"y":0.624},{"s":275,"x":1560,"y":0.642},{"s":275,"x":1545,"y":0.626},{"s":275,"x":1530,"y":0.562},{"s":275,"x":1515,"y":0.487},{"s":275,"x":1500,"y":0.409},{"s":275,"x":1480,"y":0.345},{"s":275,"x":1460,"y":0.318},{"s":275,"x":1445,"y":0.313},{"s":275,"x":1433,"y":0.292},{"s":275,"x":1420,"y":0.317},{"s":275,"x":1405,"y":0.449},{"s":275,"x":1390,"y":0.558},{"s":275,"x":1375,"y":0.662},{"s":275,"x":1362,"y":0.712},{"s":275,"x":1350,"y":0.718},{"s":275,"x":1340,"y":0.666},{"s":275,"x":1325,"y":0.559},{"s":275,"x":1310,"y":0.411},{"s":275,"x":1295,"y":0.28},{"s":275,"x":1280,"y":0.189},{"s":275,"x":1265,"y":0.126},{"s":275,"x":1245,"y":0.086},{"s":275,"x":1220,"y":0.055},{"s":275,"x":1190,"y":0.039},{"s":275,"x":1150,"y":0.019},{"s":275,"x":1120,"y":0.029},{"s":275,"x":1100,"y":0.061},{"s":275,"x":1080,"y":0.101},{"s":275,"x":1061,"y":0.118},{"s":275,"x":1045,"y":0.103},{"s":275,"x":1030,"y":0.068},{"s":275,"x":1015,"y":0.046},{"s":275,"x":1000,"y":0.034},
{"s":250,"x":2200,"y":0.007},{"s":250,"x":2100,"y":0.007},{"s":250,"x":2070,"y":0.01},{"s":250,"x":2045,"y":0.022},{"s":250,"x":2030,"y":0.038},{"s":250,"x":2019,"y":0.048},{"s":250,"x":2005,"y":0.047},{"s":250,"x":1990,"y":0.045},{"s":250,"x":1970,"y":0.041},{"s":250,"x":1950,"y":0.036},{"s":250,"x":1900,"y":0.031},{"s":250,"x":1860,"y":0.031},{"s":250,"x":1800,"y":0.029},{"s":250,"x":1750,"y":0.028},{"s":250,"x":1710,"y":0.039},{"s":250,"x":1690,"y":0.055},{"s":250,"x":1670,"y":0.078},{"s":250,"x":1650,"y":0.145},{"s":250,"x":1630,"y":0.294},{"s":250,"x":1610,"y":0.461},{"s":250,"x":1590,"y":0.598},{"s":250,"x":1575,"y":0.647},{"s":250,"x":1560,"y":0.667},{"s":250,"x":1545,"y":0.648},{"s":250,"x":1530,"y":0.58},{"s":250,"x":1515,"y":0.499},{"s":250,"x":1500,"y":0.416},{"s":250,"x":1480,"y":0.35},{"s":250,"x":1460,"y":0.324},{"s":250,"x":1445,"y":0.319},{"s":250,"x":1433,"y":0.299},{"s":250,"x":1420,"y":0.329},{"s":250,"x":1405,"y":0.469},{"s":250,"x":1390,"y":0.585},{"s":250,"x":1375,"y":0.69},{"s":250,"x":1362,"y":0.74},{"s":250,"x":1350,"y":0.743},{"s":250,"x":1340,"y":0.688},{"s":250,"x":1325,"y":0.579},{"s":250,"x":1310,"y":0.427},{"s":250,"x":1295,"y":0.293},{"s":250,"x":1280,"y":0.196},{"s":250,"x":1265,"y":0.13},{"s":250,"x":1245,"y":0.089},{"s":250,"x":1220,"y":0.057},{"s":250,"x":1190,"y":0.04},{"s":250,"x":1150,"y":0.02},{"s":250,"x":1120,"y":0.03},{"s":250,"x":1100,"y":0.064},{"s":250,"x":1080,"y":0.105},{"s":250,"x":1061,"y":0.123},{"s":250,"x":1045,"y":0.108},{"s":250,"x":1030,"y":0.071},{"s":250,"x":1015,"y":0.049},{"s":250,"x":1000,"y":0.036},
{"s":225,"x":2200,"y":0.008},{"s":225,"x":2100,"y":0.008},{"s":225,"x":2070,"y":0.011},{"s":225,"x":2045,"y":0.026},{"s":225,"x":2030,"y":0.044},{"s":225,"x":2019,"y":0.055},{"s":225,"x":2005,"y":0.053},{"s":225,"x":1990,"y":0.05},{"s":225,"x":1970,"y":0.044},{"s":225,"x":1950,"y":0.039},{"s":225,"x":1900,"y":0.034},{"s":225,"x":1860,"y":0.034},{"s":225,"x":1800,"y":0.031},{"s":225,"x":1750,"y":0.03},{"s":225,"x":1710,"y":0.042},{"s":225,"x":1690,"y":0.06},{"s":225,"x":1670,"y":0.087},{"s":225,"x":1650,"y":0.155},{"s":225,"x":1630,"y":0.306},{"s":225,"x":1610,"y":0.479},{"s":225,"x":1590,"y":0.622},{"s":225,"x":1575,"y":0.673},{"s":225,"x":1560,"y":0.694},{"s":225,"x":1545,"y":0.672},{"s":225,"x":1530,"y":0.6},{"s":225,"x":1515,"y":0.512},{"s":225,"x":1500,"y":0.424},{"s":225,"x":1480,"y":0.355},{"s":225,"x":1460,"y":0.331},{"s":225,"x":1445,"y":0.326},{"s":225,"x":1433,"y":0.306},{"s":225,"x":1420,"y":0.342},{"s":225,"x":1405,"y":0.491},{"s":225,"x":1390,"y":0.615},{"s":225,"x":1375,"y":0.721},{"s":225,"x":1362,"y":0.771},{"s":225,"x":1350,"y":0.772},{"s":225,"x":1340,"y":0.712},{"s":225,"x":1325,"y":0.601},{"s":225,"x":1310,"y":0.444},{"s":225,"x":1295,"y":0.307},{"s":225,"x":1280,"y":0.204},{"s":225,"x":1265,"y":0.135},{"s":225,"x":1245,"y":0.092},{"s":225,"x":1220,"y":0.058},{"s":225,"x":1190,"y":0.041},{"s":225,"x":1150,"y":0.021},{"s":225,"x":1120,"y":0.031},{"s":225,"x":1100,"y":0.067},{"s":225,"x":1080,"y":0.11},{"s":225,"x":1061,"y":0.129},{"s":225,"x":1045,"y":0.113},{"s":225,"x":1030,"y":0.074},{"s":225,"x":1015,"y":0.052},{"s":225,"x":1000,"y":0.039},
{"s":200,"x":2200,"y":0.008},{"s":200,"x":2100,"y":0.008},{"s":200,"x":2070,"y":0.011},{"s":200,"x":2045,"y":0.028},{"s":200,"x":2030,"y":0.049},{"s":200,"x":2019,"y":0.062},{"s":200,"x":2005,"y":0.058},{"s":200,"x":1990,"y":0.054},{"s":200,"x":1970,"y":0.047},{"s":200,"x":1950,"y":0.041},{"s":200,"x":1900,"y":0.036},{"s":200,"x":1860,"y":0.036},{"s":200,"x":1800,"y":0.033},{"s":200,"x":1750,"y":0.032},{"s":200,"x":1710,"y":0.044},{"s":200,"x":1690,"y":0.065},{"s":200,"x":1670,"y":0.096},{"s":200,"x":1650,"y":0.164},{"s":200,"x":1630,"y":0.317},{"s":200,"x":1610,"y":0.495},{"s":200,"x":1590,"y":0.644},{"s":200,"x":1575,"y":0.696},{"s":200,"x":1560,"y":0.718},{"s":200,"x":1545,"y":0.694},{"s":200,"x":1530,"y":0.618},{"s":200,"x":1515,"y":0.523},{"s":200,"x":1500,"y":0.431},{"s":200,"x":1480,"y":0.36},{"s":200,"x":1460,"y":0.337},{"s":200,"x":1445,"y":0.332},{"s":200,"x":1433,"y":0.313},{"s":200,"x":1420,"y":0.353},{"s":200,"x":1405,"y":0.511},{"s":200,"x":1390,"y":0.642},{"s":200,"x":1375,"y":0.748},{"s":200,"x":1362,"y":0.798},{"s":200,"x":1350,"y":0.797},{"s":200,"x":1340,"y":0.734},{"s":200,"x":1325,"y":0.621},{"s":200,"x":1310,"y":0.459},{"s":200,"x":1295,"y":0.32},{"s":200,"x":1280,"y":0.211},{"s":200,"x":1265,"y":0.139},{"s":200,"x":1245,"y":0.094},{"s":200,"x":1220,"y":0.06},{"s":200,"x":1190,"y":0.041},{"s":200,"x":1150,"y":0.021},{"s":200,"x":1120,"y":0.031},{"s":200,"x":1100,"y":0.069},{"s":200,"x":1080,"y":0.114},{"s":200,"x":1061,"y":0.134},{"s":200,"x":1045,"y":0.117},{"s":200,"x":1030,"y":0.077},{"s":200,"x":1015,"y":0.054},{"s":200,"x":1000,"y":0.041},
{"s":175,"x":2200,"y":0.009},{"s":175,"x":2100,"y":0.009},{"s":175,"x":2070,"y":0.012},{"s":175,"x":2045,"y":0.031},{"s":175,"x":2030,"y":0.054},{"s":175,"x":2019,"y":0.068},{"s":175,"x":2005,"y":0.064},{"s":175,"x":1990,"y":0.058},{"s":175,"x":1970,"y":0.051},{"s":175,"x":1950,"y":0.044},{"s":175,"x":1900,"y":0.038},{"s":175,"x":1860,"y":0.038},{"s":175,"x":1800,"y":0.035},{"s":175,"x":1750,"y":0.034},{"s":175,"x":1710,"y":0.047},{"s":175,"x":1690,"y":0.07},{"s":175,"x":1670,"y":0.104},{"s":175,"x":1650,"y":0.173},{"s":175,"x":1630,"y":0.328},{"s":175,"x":1610,"y":0.511},{"s":175,"x":1590,"y":0.665},{"s":175,"x":1575,"y":0.72},{"s":175,"x":1560,"y":0.742},{"s":175,"x":1545,"y":0.715},{"s":175,"x":1530,"y":0.636},{"s":175,"x":1515,"y":0.535},{"s":175,"x":1500,"y":0.438},{"s":175,"x":1480,"y":0.365},{"s":175,"x":1460,"y":0.342},{"s":175,"x":1445,"y":0.337},{"s":175,"x":1433,"y":0.32},{"s":175,"x":1420,"y":0.365},{"s":175,"x":1405,"y":0.531},{"s":175,"x":1390,"y":0.669},{"s":175,"x":1375,"y":0.776},{"s":175,"x":1362,"y":0.826},{"s":175,"x":1350,"y":0.823},{"s":175,"x":1340,"y":0.755},{"s":175,"x":1325,"y":0.641},{"s":175,"x":1310,"y":0.474},{"s":175,"x":1295,"y":0.332},{"s":175,"x":1280,"y":0.218},{"s":175,"x":1265,"y":0.143},{"s":175,"x":1245,"y":0.097},{"s":175,"x":1220,"y":0.061},{"s":175,"x":1190,"y":0.042},{"s":175,"x":1150,"y":0.022},{"s":175,"x":1120,"y":0.032},{"s":175,"x":1100,"y":0.072},{"s":175,"x":1080,"y":0.118},{"s":175,"x":1061,"y":0.139},{"s":175,"x":1045,"y":0.122},{"s":175,"x":1030,"y":0.081},{"s":175,"x":1015,"y":0.057},{"s":175,"x":1000,"y":0.043},
{"s":150,"x":2200,"y":0.009},{"s":150,"x":2100,"y":0.009},{"s":150,"x":2070,"y":0.013},{"s":150,"x":2045,"y":0.034},{"s":150,"x":2030,"y":0.06},{"s":150,"x":2019,"y":0.075},{"s":150,"x":2005,"y":0.069},{"s":150,"x":1990,"y":0.062},{"s":150,"x":1970,"y":0.054},{"s":150,"x":1950,"y":0.047},{"s":150,"x":1900,"y":0.041},{"s":150,"x":1860,"y":0.041},{"s":150,"x":1800,"y":0.036},{"s":150,"x":1750,"y":0.036},{"s":150,"x":1710,"y":0.05},{"s":150,"x":1690,"y":0.075},{"s":150,"x":1670,"y":0.113},{"s":150,"x":1650,"y":0.182},{"s":150,"x":1630,"y":0.338},{"s":150,"x":1610,"y":0.528},{"s":150,"x":1590,"y":0.687},{"s":150,"x":1575,"y":0.743},{"s":150,"x":1560,"y":0.766},{"s":150,"x":1545,"y":0.737},{"s":150,"x":1530,"y":0.654},{"s":150,"x":1515,"y":0.547},{"s":150,"x":1500,"y":0.446},{"s":150,"x":1480,"y":0.37},{"s":150,"x":1460,"y":0.348},{"s":150,"x":1445,"y":0.343},{"s":150,"x":1433,"y":0.327},{"s":150,"x":1420,"y":0.377},{"s":150,"x":1405,"y":0.55},{"s":150,"x":1390,"y":0.696},{"s":150,"x":1375,"y":0.804},{"s":150,"x":1362,"y":0.854},{"s":150,"x":1350,"y":0.849},{"s":150,"x":1340,"y":0.777},{"s":150,"x":1325,"y":0.66},{"s":150,"x":1310,"y":0.489},{"s":150,"x":1295,"y":0.345},{"s":150,"x":1280,"y":0.226},{"s":150,"x":1265,"y":0.147},{"s":150,"x":1245,"y":0.1},{"s":150,"x":1220,"y":0.062},{"s":150,"x":1190,"y":0.043},{"s":150,"x":1150,"y":0.023},{"s":150,"x":1120,"y":0.033},{"s":150,"x":1100,"y":0.075},{"s":150,"x":1080,"y":0.122},{"s":150,"x":1061,"y":0.145},{"s":150,"x":1045,"y":0.126},{"s":150,"x":1030,"y":0.084},{"s":150,"x":1015,"y":0.06},{"s":150,"x":1000,"y":0.046},
{"s":125,"x":2200,"y":0.01},{"s":125,"x":2100,"y":0.01},{"s":125,"x":2070,"y":0.014},{"s":125,"x":2045,"y":0.037},{"s":125,"x":2030,"y":0.065},{"s":125,"x":2019,"y":0.081},{"s":125,"x":2005,"y":0.075},{"s":125,"x":1990,"y":0.066},{"s":125,"x":1970,"y":0.057},{"s":125,"x":1950,"y":0.049},{"s":125,"x":1900,"y":0.043},{"s":125,"x":1860,"y":0.043},{"s":125,"x":1800,"y":0.038},{"s":125,"x":1750,"y":0.038},{"s":125,"x":1710,"y":0.052},{"s":125,"x":1690,"y":0.08},{"s":125,"x":1670,"y":0.121},{"s":125,"x":1650,"y":0.191},{"s":125,"x":1630,"y":0.349},{"s":125,"x":1610,"y":0.544},{"s":125,"x":1590,"y":0.708},{"s":125,"x":1575,"y":0.767},{"s":125,"x":1560,"y":0.791},{"s":125,"x":1545,"y":0.758},{"s":125,"x":1530,"y":0.672},{"s":125,"x":1515,"y":0.558},{"s":125,"x":1500,"y":0.453},{"s":125,"x":1480,"y":0.375},{"s":125,"x":1460,"y":0.354},{"s":125,"x":1445,"y":0.349},{"s":125,"x":1433,"y":0.333},{"s":125,"x":1420,"y":0.388},{"s":125,"x":1405,"y":0.57},{"s":125,"x":1390,"y":0.723},{"s":125,"x":1375,"y":0.832},{"s":125,"x":1362,"y":0.882},{"s":125,"x":1350,"y":0.874},{"s":125,"x":1340,"y":0.798},{"s":125,"x":1325,"y":0.68},{"s":125,"x":1310,"y":0.505},{"s":125,"x":1295,"y":0.357},{"s":125,"x":1280,"y":0.233},{"s":125,"x":1265,"y":0.151},{"s":125,"x":1245,"y":0.102},{"s":125,"x":1220,"y":0.064},{"s":125,"x":1190,"y":0.044},{"s":125,"x":1150,"y":0.024},{"s":125,"x":1120,"y":0.034},{"s":125,"x":1100,"y":0.077},{"s":125,"x":1080,"y":0.126},{"s":125,"x":1061,"y":0.15},{"s":125,"x":1045,"y":0.131},{"s":125,"x":1030,"y":0.087},{"s":125,"x":1015,"y":0.062},{"s":125,"x":1000,"y":0.048},
{"s":100,"x":2200,"y":0.01},{"s":100,"x":2100,"y":0.01},{"s":100,"x":2070,"y":0.015},{"s":100,"x":2045,"y":0.04},{"s":100,"x":2030,"y":0.07},{"s":100,"x":2019,"y":0.088},{"s":100,"x":2005,"y":0.08},{"s":100,"x":1990,"y":0.07},{"s":100,"x":1970,"y":0.06},{"s":100,"x":1950,"y":0.052},{"s":100,"x":1900,"y":0.045},{"s":100,"x":1860,"y":0.045},{"s":100,"x":1800,"y":0.04},{"s":100,"x":1750,"y":0.04},{"s":100,"x":1710,"y":0.055},{"s":100,"x":1690,"y":0.085},{"s":100,"x":1670,"y":0.13},{"s":100,"x":1650,"y":0.2},{"s":100,"x":1630,"y":0.36},{"s":100,"x":1610,"y":0.56},{"s":100,"x":1590,"y":0.73},{"s":100,"x":1575,"y":0.79},{"s":100,"x":1560,"y":0.815},{"s":100,"x":1545,"y":0.78},{"s":100,"x":1530,"y":0.69},{"s":100,"x":1515,"y":0.57},{"s":100,"x":1500,"y":0.46},{"s":100,"x":1480,"y":0.38},{"s":100,"x":1460,"y":0.36},{"s":100,"x":1445,"y":0.355},{"s":100,"x":1433,"y":0.34},{"s":100,"x":1420,"y":0.4},{"s":100,"x":1405,"y":0.59},{"s":100,"x":1390,"y":0.75},{"s":100,"x":1375,"y":0.86},{"s":100,"x":1362,"y":0.91},{"s":100,"x":1350,"y":0.9},{"s":100,"x":1340,"y":0.82},{"s":100,"x":1325,"y":0.7},{"s":100,"x":1310,"y":0.52},{"s":100,"x":1295,"y":0.37},{"s":100,"x":1280,"y":0.24},{"s":100,"x":1265,"y":0.155},{"s":100,"x":1245,"y":0.105},{"s":100,"x":1220,"y":0.065},{"s":100,"x":1190,"y":0.045},{"s":100,"x":1150,"y":0.025},{"s":100,"x":1120,"y":0.035},{"s":100,"x":1100,"y":0.08},{"s":100,"x":1080,"y":0.13},{"s":100,"x":1061,"y":0.155},{"s":100,"x":1045,"y":0.135},{"s":100,"x":1030,"y":0.09},{"s":100,"x":1015,"y":0.065},{"s":100,"x":1000,"y":0.05}],
"linA":[{"x":1603,"y":1.533,"y2":1.153},{"x":1326,"y":1.542,"y2":1.196},{"x":1070,"y":0.556,"y2":0.21}],
"labA":[{"x":1603,"y":1.624,"t":"1603"},{"x":1326,"y":1.632,"t":"1325"},{"x":1073,"y":0.656,"t":"1068"}],
"letA":[{"x":1845,"y":1.771,"t":"A"}],
"arrA":[{"x":1459,"y":0.349,"y2":-0.01}],
"tipA":[{"x":1459,"y":-0.01}],
"linB":[{"x":1559,"y":1.066,"y2":0.84},{"x":1359,"y":1.149,"y2":0.93},{"x":2020,"y":0.326,"y2":0.115},{"x":1057,"y":0.383,"y2":0.163}],
"labB":[{"x":1575,"y":1.167,"t":"1558"},{"x":1354,"y":1.226,"t":"1352"},{"x":2016,"y":0.4,"t":"2019"},{"x":1059,"y":0.463,"t":"1061"}],
"letB":[{"x":1864,"y":1.805,"t":"B"}],
"arrB":[{"x":1458,"y":0.603,"y2":0.197}],
"tipB":[{"x":1458,"y":0.197}]
},
"hconcat":[
{"width":493,"height":404,
"encoding":{
"x":{"field":"x","type":"quantitative","scale":{"domain":[1000,2200],"reverse":true,"nice":false,"zero":false},"axis":{"values":[1000,1100,1200,1300,1400,1500,1600,1700,1800,1900,2000,2100,2200],"format":"d","labelExpr":"datum.value % 200 == 0 ? datum.label : ''","tickSize":{"condition":{"test":"datum.value % 200 == 0","value":7},"value":4},"labelPadding":9,"title":"Wavelenght [cm⁻¹]","titlePadding":14}},
"y":{"field":"y","type":"quantitative","scale":{"domain":[-0.1,2.0],"nice":false,"zero":false},"axis":{"values":[0,0.2,0.4,0.6,0.8,1,1.2,1.4,1.6,1.8,2],"format":".1f","labelExpr":"round(datum.value*10) % 4 == 0 ? datum.label : ''","tickSize":{"condition":{"test":"round(datum.value*10) % 4 == 0","value":8},"value":4},"labelPadding":5,"title":"Absorbance [a.u.]","titlePadding":18}}},
"layer":[
{"data":{"name":"refA"},"mark":{"type":"line","strokeWidth":1,"clip":true},"encoding":{"order":{"field":"x","sort":"descending"},"color":{"field":"s","type":"nominal","scale":{"domain":[0,375,350,325,300,275,250,225,200,175,150,125,100],"range":["#000000","#FF1A8C","#FF4545","#FF8020","#FFB020","#EEDD00","#88E800","#00CC00","#00D89A","#1CC8C8","#1EA0FF","#1E3CFF","#9B10E0"]},"legend":{"orient":"none","legendX":19,"legendY":23,"title":null,"symbolType":"stroke","symbolSize":1024,"symbolStrokeWidth":2,"labelFont":"Liberation Sans","labelFontSize":14,"labelColor":"black","labelOffset":4,"clipHeight":16,"rowPadding":3.33,"padding":2,"strokeColor":"black","fillColor":"white","labelExpr":"datum.value == 0 ? 'reference' : datum.value + '°C'"}}}},
{"data":{"name":"tA"},"mark":{"type":"line","strokeWidth":1.8,"interpolate":"monotone","clip":true},"encoding":{"order":{"field":"x","sort":"descending"},"color":{"field":"s","type":"nominal"}}},
{"data":{"name":"linA"},"mark":{"type":"rule","color":"black","strokeWidth":1},"encoding":{"y2":{"field":"y2"}}},
{"data":{"name":"arrA"},"mark":{"type":"rule","color":"black","strokeWidth":1.8},"encoding":{"y2":{"field":"y2"}}},
{"data":{"name":"tipA"},"mark":{"type":"point","shape":"M-0.45,-1L0.45,-1L0,1Z","filled":true,"color":"black","opacity":1,"size":225}},
{"data":{"name":"labA"},"mark":{"type":"text","font":"Liberation Sans","fontSize":19,"color":"black","baseline":"middle","align":"center"},"encoding":{"text":{"field":"t"}}},
{"data":{"name":"letA"},"mark":{"type":"text","font":"Liberation Sans","fontSize":26,"fontWeight":"bold","color":"black","baseline":"middle","align":"center"},"encoding":{"text":{"field":"t"}}}
]},
{"width":493,"height":404,
"encoding":{
"x":{"field":"x","type":"quantitative","scale":{"domain":[1000,2200],"reverse":true,"nice":false,"zero":false},"axis":{"values":[1000,1100,1200,1300,1400,1500,1600,1700,1800,1900,2000,2100,2200],"format":"d","labelExpr":"datum.value % 200 == 0 ? datum.label : ''","tickSize":{"condition":{"test":"datum.value % 200 == 0","value":7},"value":4},"labelPadding":9,"title":"Wavelenght [cm⁻¹]","titlePadding":14}},
"y":{"field":"y","type":"quantitative","scale":{"domain":[-0.1,2.0],"nice":false,"zero":false},"axis":{"values":[0,0.2,0.4,0.6,0.8,1,1.2,1.4,1.6,1.8,2],"format":".1f","labelExpr":"round(datum.value*10) % 4 == 0 ? datum.label : ''","tickSize":{"condition":{"test":"round(datum.value*10) % 4 == 0","value":8},"value":4},"labelPadding":5,"title":"Absorbance [a.u.]","titlePadding":18}}},
"layer":[
{"data":{"name":"refB"},"mark":{"type":"line","strokeWidth":1,"clip":true},"encoding":{"order":{"field":"x","sort":"descending"},"color":{"field":"s","type":"nominal","scale":{"domain":[0,375,350,325,300,275,250,225,200,175,150,125,100],"range":["#000000","#FF1A8C","#FF4545","#FF8020","#FFB020","#EEDD00","#88E800","#00CC00","#00D89A","#1CC8C8","#1EA0FF","#1E3CFF","#9B10E0"]},"legend":{"orient":"none","legendX":21,"legendY":19,"title":null,"symbolType":"stroke","symbolSize":1024,"symbolStrokeWidth":2,"labelFont":"Liberation Sans","labelFontSize":14,"labelColor":"black","labelOffset":4,"clipHeight":16,"rowPadding":3.33,"padding":2,"strokeColor":"black","fillColor":"white","labelExpr":"datum.value == 0 ? 'reference' : datum.value + '°C'"}}}},
{"data":{"name":"tB"},"mark":{"type":"line","strokeWidth":1.8,"interpolate":"monotone","clip":true},"encoding":{"order":{"field":"x","sort":"descending"},"color":{"field":"s","type":"nominal"}}},
{"data":{"name":"linB"},"mark":{"type":"rule","color":"black","strokeWidth":1},"encoding":{"y2":{"field":"y2"}}},
{"data":{"name":"arrB"},"mark":{"type":"rule","color":"black","strokeWidth":1.8},"encoding":{"y2":{"field":"y2"}}},
{"data":{"name":"tipB"},"mark":{"type":"point","shape":"M-0.45,-1L0.45,-1L0,1Z","filled":true,"color":"black","opacity":1,"size":225}},
{"data":{"name":"labB"},"mark":{"type":"text","font":"Liberation Sans","fontSize":19,"color":"black","baseline":"middle","align":"center"},"encoding":{"text":{"field":"t"}}},
{"data":{"name":"letB"},"mark":{"type":"text","font":"Liberation Sans","fontSize":26,"fontWeight":"bold","color":"black","baseline":"middle","align":"center"},"encoding":{"text":{"field":"t"}}}
]}
]
}
